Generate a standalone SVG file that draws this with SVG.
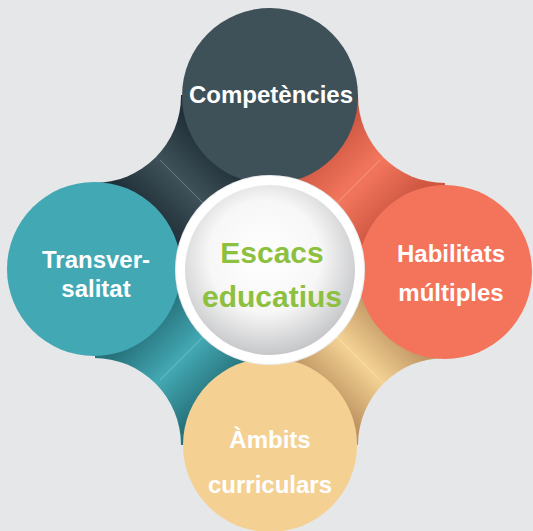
<svg xmlns="http://www.w3.org/2000/svg" width="533" height="531" viewBox="0 0 533 531">
<defs>
<linearGradient id="gTL" gradientUnits="userSpaceOnUse" x1="95" y1="270" x2="270" y2="95">
<stop offset="0.3" stop-color="#1f2f38"/><stop offset="0.5" stop-color="#3e5158"/><stop offset="0.7" stop-color="#1f2f38"/>
</linearGradient>
<linearGradient id="gTR" gradientUnits="userSpaceOnUse" x1="270" y1="95" x2="445" y2="270">
<stop offset="0.3" stop-color="#cf5742"/><stop offset="0.5" stop-color="#f3775d"/><stop offset="0.7" stop-color="#cf5742"/>
</linearGradient>
<linearGradient id="gBR" gradientUnits="userSpaceOnUse" x1="445" y1="270" x2="270" y2="445">
<stop offset="0.3" stop-color="#bf9563"/><stop offset="0.5" stop-color="#f4d293"/><stop offset="0.7" stop-color="#bf9563"/>
</linearGradient>
<linearGradient id="gBL" gradientUnits="userSpaceOnUse" x1="95" y1="270" x2="270" y2="445">
<stop offset="0.3" stop-color="#27737c"/><stop offset="0.5" stop-color="#43a9b4"/><stop offset="0.7" stop-color="#27737c"/>
</linearGradient>
<radialGradient id="gC" cx="0.47" cy="0.42" r="0.6">
<stop offset="0" stop-color="#ffffff"/><stop offset="0.55" stop-color="#f7f7f7"/><stop offset="1" stop-color="#c2c3c5"/>
</radialGradient>
<style>
.lbl{font-family:"Liberation Sans",Arial,sans-serif;font-weight:bold;font-size:24px;fill:#ffffff;text-anchor:middle}
.ctr{font-family:"Liberation Sans",Arial,sans-serif;font-weight:bold;font-size:30px;fill:#8dc03f;text-anchor:middle}
.gray{fill:#e6e7e9}
.hl{stroke:#ffffff;stroke-opacity:0.3;stroke-width:0.8}
</style>
</defs>
<rect width="533" height="531" fill="#e6e7e9"/>
<g id="connectors">
<rect x="95" y="95" width="175" height="175" fill="url(#gTL)"/>
<rect x="270" y="95" width="175" height="175" fill="url(#gTR)"/>
<rect x="270" y="270" width="175" height="175" fill="url(#gBR)"/>
<rect x="95" y="270" width="175" height="175" fill="url(#gBL)"/>
<line class="hl" x1="160" y1="160" x2="205" y2="205"/>
<line class="hl" x1="380" y1="160" x2="335" y2="205"/>
<line class="hl" x1="380" y1="380" x2="335" y2="335"/>
<line class="hl" x1="160" y1="380" x2="205" y2="335"/>
<circle class="gray" cx="94" cy="96" r="87"/>
<circle class="gray" cx="445" cy="96" r="87"/>
<circle class="gray" cx="445" cy="445" r="87"/>
<circle class="gray" cx="94" cy="445" r="87"/>
</g>
<g id="competencies">
<circle cx="270" cy="96" r="88" fill="#3e5159"/>
<text class="lbl" x="271" y="103">Competències</text>
</g>
<g id="transversalitat">
<circle cx="94" cy="269" r="87" fill="#42a8b4"/>
<text class="lbl" x="96" y="268">Transver-</text>
<text class="lbl" x="96" y="297">salitat</text>
</g>
<g id="habilitats">
<circle cx="445" cy="272" r="87" fill="#f4735b"/>
<text class="lbl" x="451" y="262">Habilitats</text>
<text class="lbl" x="451" y="301">múltiples</text>
</g>
<g id="ambits">
<circle cx="270" cy="445" r="87" fill="#f4d192"/>
<text class="lbl" x="270" y="448">Àmbits</text>
<text class="lbl" x="270" y="493">curriculars</text>
</g>
<g id="escacs">
<circle cx="270" cy="270" r="95" fill="#e9eaeb"/>
<circle cx="270" cy="270" r="94" fill="#ffffff"/>
<circle cx="270" cy="270" r="85" fill="url(#gC)"/>
<text class="ctr" x="272" y="263">Escacs</text>
<text class="ctr" x="272" y="307">educatius</text>
</g>
</svg>
